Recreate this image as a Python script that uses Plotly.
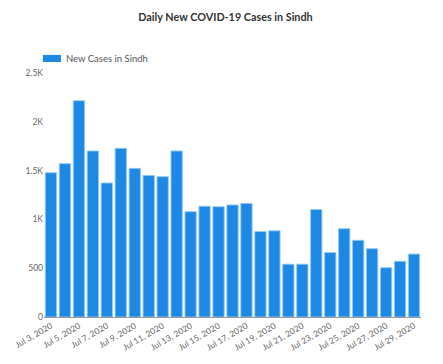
import plotly.graph_objects as go

dates = ["2020-07-%02d" % d for d in range(3, 30)]
new_cases = [1478, 1571, 2216, 1701, 1373, 1728, 1523, 1451, 1438, 1701,
             1079, 1135, 1130, 1148, 1164, 876, 883, 541, 541, 1101,
             660, 905, 786, 700, 505, 571, 645]
tick_dates = dates[::2]
tick_labels = ["Jul %d, 2020" % int(d[-2:]) for d in tick_dates]
y_ticks = [0, 500, 1000, 1500, 2000, 2500]
y_labels = ["0", "500", "1K", "1.5K", "2K", "2.5K"]
series_name = "New Cases in Sindh"
bar_color = "#1E88E5"

fig = go.Figure()
fig.add_trace(go.Bar(
    x=dates, y=new_cases, name=series_name, showlegend=False,
    marker=dict(color=bar_color, line=dict(color="rgba(144,202,249,0.9)", width=1)),
))
# legend swatch + label (wide rectangle like the reference)
fig.add_shape(type="rect", xref="paper", yref="paper",
              x0=-0.003, x1=0.045, y0=1.045, y1=1.074,
              fillcolor=bar_color, line=dict(width=0))
fig.add_annotation(text=series_name, xref="paper", yref="paper",
                   x=0.053, y=1.060, xanchor="left", yanchor="middle", showarrow=False,
                   font=dict(size=9.5, color="#555"))
fig.update_layout(
    width=435, height=356,
    margin=dict(l=36, r=22, t=65, b=47),
    paper_bgcolor="white", plot_bgcolor="white",
    font=dict(family="Lato, sans-serif", color="#555", size=9),
    title=dict(text="<b>Daily New COVID-19 Cases in Sindh</b>", x=0.5, xanchor="center",
               y=0.975, yanchor="middle", font=dict(size=10.8, color="#333")),
    showlegend=False,
    bargap=0.19,
    xaxis=dict(type="category", tickvals=tick_dates, ticktext=tick_labels, tickangle=-30,
               showline=True, linecolor="#999", linewidth=1, showgrid=False, ticks="",
               automargin=False, tickfont=dict(size=8.5, color="#666")),
    yaxis=dict(range=[0, 2500], tickvals=y_ticks, ticktext=y_labels, showgrid=False,
               zeroline=False, showline=False, ticks="", automargin=False,
               tickfont=dict(size=8.5, color="#666")),
)
fig.write_html("out.html")
